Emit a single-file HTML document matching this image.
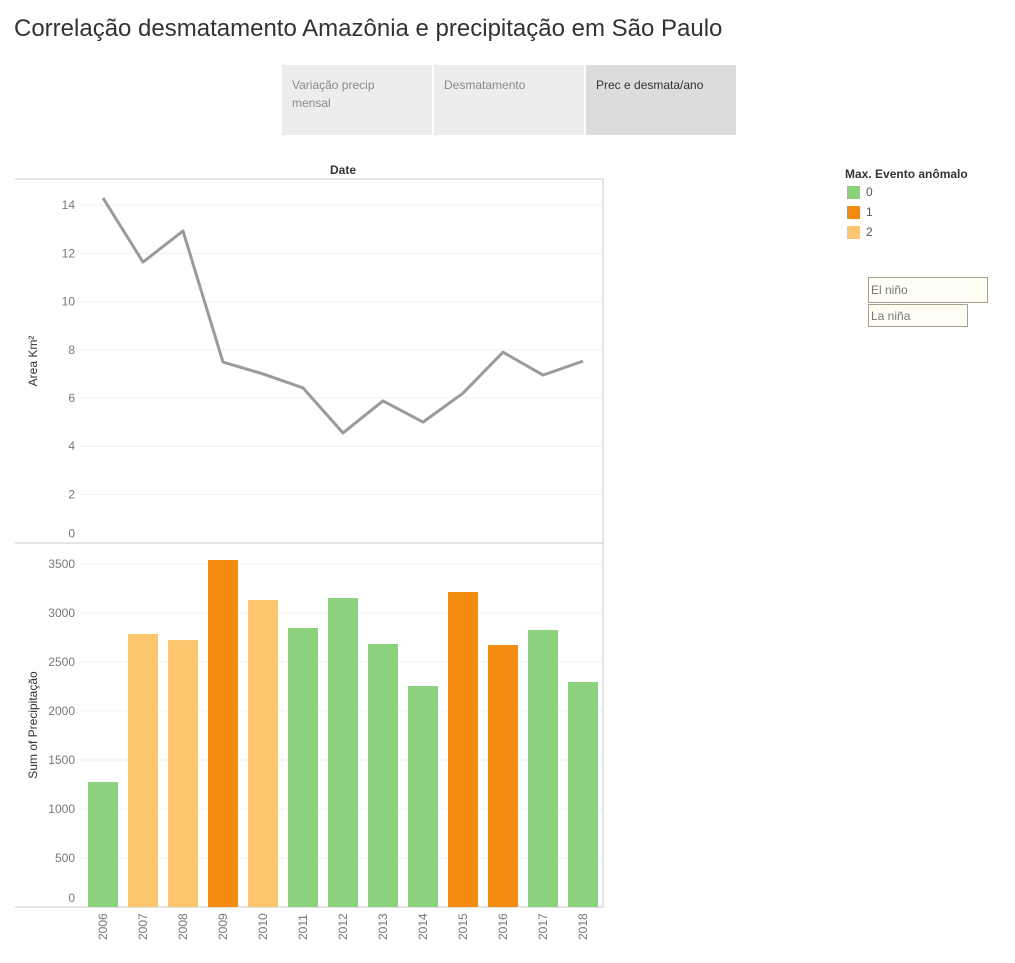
<!DOCTYPE html>
<html><head><meta charset="utf-8"><style>
body{margin:0;width:1015px;height:963px;background:#fff;font-family:"Liberation Sans",sans-serif;position:relative;overflow:hidden}
.t{position:absolute;white-space:nowrap}
.tab{position:absolute;top:65px;height:70px;width:150px;background:#ededed;color:#8a8a8a;font-size:12px;box-sizing:border-box;padding:11px 10px;line-height:18px}
.leg{position:absolute;left:847px;width:13px;height:13px}
.box{position:absolute;left:868px;border:1px solid #a8a08a;background:#fffef5;font-size:12px;color:#777;box-sizing:border-box;padding:5px 2px}
</style></head><body>
<div class="t" style="left:14px;top:15px;font-size:24px;color:#333">Correlação desmatamento Amazônia e precipitação em São Paulo</div>
<div class="tab" style="left:282px">Variação precip<br>mensal</div>
<div class="tab" style="left:434px">Desmatamento</div>
<div class="tab" style="left:586px;background:#dcdcdc;color:#333">Prec e desmata/ano</div>
<div class="t" style="left:845px;top:167px;font-size:12px;color:#333;font-weight:bold">Max. Evento anômalo</div>
<div class="leg" style="top:186px;background:#8bd17e"></div>
<div class="t" style="left:866px;top:185px;font-size:12px;color:#555">0</div>
<div class="leg" style="top:206px;background:#f28b10"></div>
<div class="t" style="left:866px;top:205px;font-size:12px;color:#555">1</div>
<div class="leg" style="top:226px;background:#fbc66e"></div>
<div class="t" style="left:866px;top:225px;font-size:12px;color:#555">2</div>
<div class="box" style="top:277px;width:120px;height:26px">El niño</div>
<div class="box" style="top:304px;width:100px;height:23px;padding-top:4px">La niña</div>
<svg id="c" width="1015" height="963" style="position:absolute;left:0;top:0"></svg>
<script>
const years=["2006","2007","2008","2009","2010","2011","2012","2013","2014","2015","2016","2017","2018"];
const area=[14.3,11.64,12.93,7.49,7.0,6.42,4.55,5.88,5.0,6.2,7.9,6.95,7.53];
const precip=[1276,2786,2724,3541,3133,2847,3153,2684,2255,3214,2673,2827,2296];
const evento=[0,2,2,1,2,0,0,0,0,1,1,0,0];
const areaTicks=[0,2,4,6,8,10,12,14];
const precTicks=[0,500,1000,1500,2000,2500,3000,3500];
const colors=["#8bd17e","#f28b10","#fbc66e"];
const ns="http://www.w3.org/2000/svg",svg=document.getElementById('c');
function mk(t,a,txt){const e=document.createElementNS(ns,t);for(const k in a)e.setAttribute(k,a[k]);if(txt!==undefined)e.textContent=txt;svg.appendChild(e);return e;}
const L=15,R=603,T1=179,B1=543,B2=907;
const x=i=>103+i*40;
const y1=v=>542.6-v*24.1;
const y2=v=>907-v*0.098;
// gridlines
areaTicks.forEach(v=>{if(v>0){const g=mk('line',{x1:L+65,x2:R,y1:y1(v),y2:y1(v),stroke:'#f0f0f0'});}
const t=mk('text',{x:75,y:(v==0?y1(v)-5:y1(v)+4),'text-anchor':'end','font-size':12,fill:'#777'},v);});
precTicks.forEach(v=>{if(v>0){const g=mk('line',{x1:L+65,x2:R,y1:y2(v),y2:y2(v),stroke:'#f0f0f0'});}
const t=mk('text',{x:75,y:(v==0?y2(v)-5:y2(v)+4),'text-anchor':'end','font-size':12,fill:'#777'},v);});
// frame
let f=mk('path',{d:`M${L} ${T1}H${R}V${B2}H${L}M${L} ${B1}H${R}`,fill:'none',stroke:'#c8c8c8'});

let h=mk('text',{x:343,y:174,'text-anchor':'middle','font-size':12,fill:'#333','font-weight':'bold'},'Date');

let a1=mk('text',{x:0,y:0,transform:'translate(37,361) rotate(-90)','text-anchor':'middle','font-size':12,fill:'#333'},'Area Km²');

let a2=mk('text',{x:0,y:0,transform:'translate(37,725) rotate(-90)','text-anchor':'middle','font-size':12,fill:'#333'},'Sum of Precipitação');

// bars
precip.forEach((v,i)=>{const b=mk('rect',{x:x(i)-15,y:y2(v),width:30,height:B2-y2(v),fill:colors[evento[i]]});

const t=mk('text',{x:0,y:0,transform:`translate(${x(i)+4},940) rotate(-90)`,'font-size':12,fill:'#777'},years[i]);
});
// line
const ln=mk('polyline',{points:area.map((v,i)=>x(i)+','+y1(v)).join(' '),fill:'none',stroke:'#9b9b9b','stroke-width':3,'stroke-linejoin':'round'});

</script>
</body></html>
